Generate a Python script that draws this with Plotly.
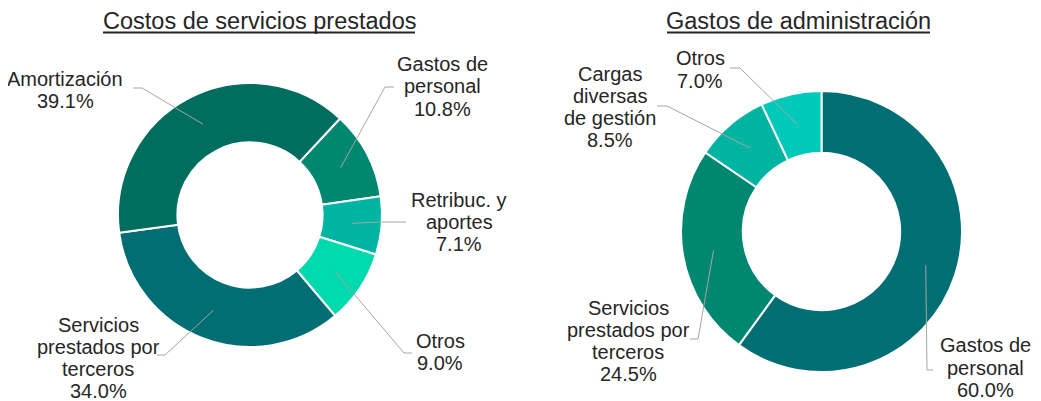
import math
import plotly.graph_objects as go

# The page body has an 8px margin, so the figure is drawn 8px in from the
# window's top-left corner; layout pixel positions below are window pixels.
OFF = 8
W, H = 1041 - OFF, 401 - OFF

# ---- data ----
left_title = "Costos de servicios prestados"
left_categories = ["Gastos de personal", "Retribuc. y aportes", "Otros",
                   "Servicios prestados por terceros", "Amortización"]
left_values = [10.8, 7.1, 9.0, 34.0, 39.1]
left_display = [["Gastos de", "personal"], ["Retribuc. y", "aportes"], ["Otros"],
                ["Servicios", "prestados por", "terceros"], ["Amortización"]]

right_title = "Gastos de administración"
right_categories = ["Gastos de personal", "Servicios prestados por terceros",
                    "Cargas diversas de gestión", "Otros"]
right_values = [60.0, 24.5, 8.5, 7.0]
right_display = [["Gastos de", "personal"], ["Servicios", "prestados por", "terceros"],
                 ["Cargas", "diversas", "de gestión"], ["Otros"]]

# ---- styles / layout ----
left_colors = ["#00876F", "#00B4A2", "#00D8AE", "#006E73", "#006D5E"]
right_colors = ["#006E73", "#00876F", "#00B4A2", "#00C9BA"]

FONT = "Liberation Sans, Arial, sans-serif"
TEXT_COLOR = "#262626"
LINE_COLOR = "#A6A6A6"
LABEL_SIZE = 20
LINE_GAP = 22.3

pies = [
    dict(cx=250, cy=215, r=132, hole=0.55, rotation=43,
         values=left_values, labels=left_categories, display=left_display,
         colors=left_colors, title=left_title, title_x=259, title_span=(103, 415),
         # per label: block center, elbow point, line end (window pixels)
         lab=[((442, 86.5), (385, 87), (394, 87)),
              ((459, 222), (380, 222), (406, 222)),
              ((440, 352), (404, 353), (412, 353)),
              ((98, 358), (165, 355), (157, 355)),
              ((65, 90), (142, 88), (133, 88))]),
    dict(cx=821.5, cy=231.5, r=140.5, hole=0.56, rotation=0,
         values=right_values, labels=right_categories, display=right_display,
         colors=right_colors, title=right_title, title_x=798, title_span=(667, 930),
         lab=[((985, 367.5), (927, 370), (933, 370)),
              ((628, 341), (698, 339), (690, 339)),
              ((610, 107), (667, 106), (657, 106)),
              ((700, 69.5), (740, 68), (730, 68))]),
]


def px(x):
    return (x - OFF) / W


def py(y):
    return 1 - (y - OFF) / H


fig = go.Figure()
shapes = []
annotations = []

for p in pies:
    cx, cy, r = p["cx"], p["cy"], p["r"]
    fig.add_trace(go.Pie(
        values=p["values"], labels=p["labels"], sort=False,
        direction="clockwise", rotation=p["rotation"], hole=p["hole"],
        marker=dict(colors=p["colors"], line=dict(color="white", width=2)),
        textinfo="none", hoverinfo="label+percent", showlegend=False,
        domain=dict(x=[px(cx - r), px(cx + r)], y=[py(cy + r), py(cy - r)]),
    ))
    total = sum(p["values"])
    start = p["rotation"]
    rmid = r * (1 + p["hole"]) / 2
    for v, disp, (tc, elbow, end) in zip(p["values"], p["display"], p["lab"]):
        mid = start + v / total * 360 / 2
        start += v / total * 360
        a = math.radians(mid)
        sx, sy = cx + rmid * math.sin(a), cy - rmid * math.cos(a)
        path = (f"M {px(sx)} {py(sy)} L {px(elbow[0])} {py(elbow[1])} "
                f"L {px(end[0])} {py(end[1])}")
        shapes.append(dict(type="path", xref="paper", yref="paper", path=path,
                           line=dict(color=LINE_COLOR, width=1)))
        lines = list(disp) + [f"{v / total * 100:.1f}%"]
        n = len(lines)
        for i, t in enumerate(lines):
            yy = tc[1] + (i - (n - 1) / 2) * LINE_GAP
            annotations.append(dict(
                x=px(tc[0]), y=py(yy), xref="paper", yref="paper",
                text=t, showarrow=False, xanchor="center", yanchor="middle",
                font=dict(family=FONT, size=LABEL_SIZE, color=TEXT_COLOR)))
    annotations.append(dict(
        x=px(p["title_x"]), y=py(21), xref="paper", yref="paper",
        text=p["title"], showarrow=False, xanchor="center", yanchor="middle",
        font=dict(family=FONT, size=23.5, color=TEXT_COLOR)))
    x0, x1 = p["title_span"]
    shapes.append(dict(type="line", xref="paper", yref="paper",
                       x0=px(x0), x1=px(x1), y0=py(32.5), y1=py(32.5),
                       line=dict(color=TEXT_COLOR, width=1.8)))

fig.update_layout(
    width=W, height=H, margin=dict(l=0, r=0, t=0, b=0),
    paper_bgcolor="white", plot_bgcolor="white",
    shapes=shapes, annotations=annotations,
)

fig.write_html("out.html")
